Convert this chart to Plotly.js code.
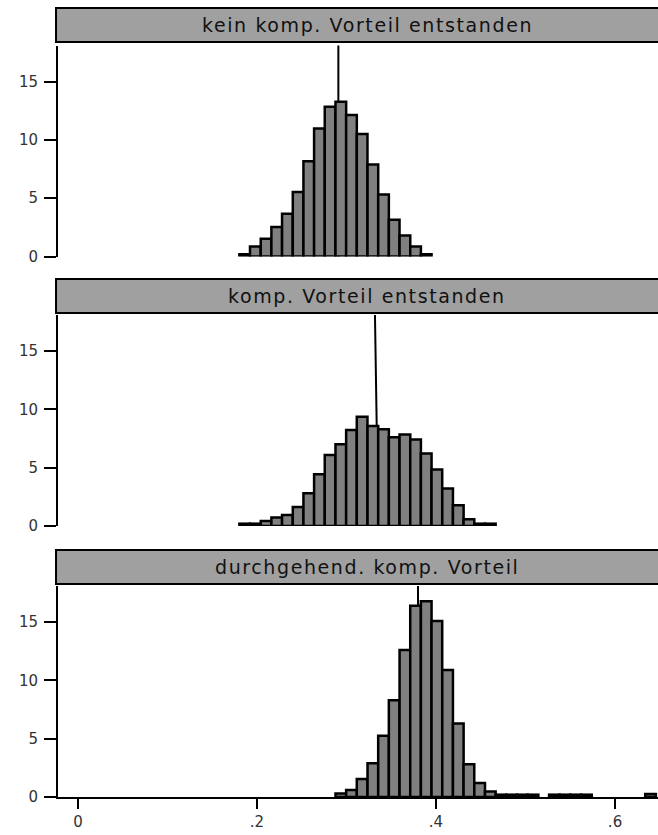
<!DOCTYPE html>
<html>
<head>
<meta charset="utf-8">
<script src="https://cdn.plot.ly/plotly-3.0.1.min.js"></script>
<style>
html,body{margin:0;padding:0;overflow:hidden;background:#fff}
.annotation-text{letter-spacing:1.6px}
</style>
</head>
<body>
<div id="chart" style="width:658px;height:835px"></div>
<script>
// ---- data ----
const panelTitles = ["kein komp. Vorteil entstanden", "komp. Vorteil entstanden", "durchgehend. komp. Vorteil"];
const binLeft = [0.1803, 0.1922, 0.2042, 0.2161, 0.2280, 0.2400, 0.2519, 0.2638, 0.2757, 0.2877,
                 0.2996, 0.3115, 0.3235, 0.3354, 0.3473, 0.3593, 0.3712, 0.3831, 0.3950, 0.4070,
                 0.4189, 0.4308, 0.4428, 0.4547, 0.4666, 0.4786, 0.4905, 0.5024, 0.5143, 0.5263,
                 0.5382, 0.5501, 0.5621, 0.5740, 0.5859, 0.5979, 0.6098, 0.6217, 0.6337];
const binWidth = 0.01193;
// density per bin (null = empty bin)
const densKein = [0.2, 0.86, 1.52, 2.52, 3.67, 5.53, 8.18, 10.99, 12.85, 13.28,
                  12.13, 10.5, 7.89, 5.31, 3.16, 1.81, 0.86, 0.2, null, null,
                  null, null, null, null, null, null, null, null, null, null,
                  null, null, null, null, null, null, null, null, null];
const densEntstanden = [0.2, 0.2, 0.43, 0.72, 0.95, 1.64, 2.81, 4.44, 6.08, 7.02,
                        8.23, 9.37, 8.57, 8.31, 7.62, 7.85, 7.42, 6.22, 4.84, 3.21,
                        1.78, 0.57, 0.2, 0.2, null, null, null, null, null, null,
                        null, null, null, null, null, null, null, null, null];
const densDurch = [null, null, null, null, null, null, null, null, null, 0.3,
                   0.6, 1.55, 2.9, 5.25, 8.3, 12.6, 16.4, 16.8, 15.1, 10.9,
                   6.3, 2.8, 1.2, 0.48, 0.2, 0.2, 0.2, 0.2, null, 0.2,
                   0.2, 0.2, 0.2, null, null, null, null, null, 0.25];
// reference (mean) line: [x at bottom, x at top]
const meanKein = [0.2909, 0.2909];
const meanEntstanden = [0.3355, 0.3318];
const meanDurch = [0.3799, 0.3799];
const yTickVals = [0, 5, 10, 15];
const yTickText = ["0", "5", "10", "15"];
const xTickVals = [0, 0.2, 0.4, 0.6];
const xTickText = ["0", ".2", ".4", ".6"];

// ---- chart ----
const FONT = "DejaVu Sans, sans-serif";
const series = [densKein, densEntstanden, densDurch];
const means = [meanKein, meanEntstanden, meanDurch];
const suffix = ["", "2", "3"];

const traces = series.map((d, i) => ({
  type: "bar",
  x: binLeft,
  y: d,
  width: binWidth,
  offset: 0,
  xaxis: "x" + suffix[i],
  yaxis: "y" + suffix[i],
  marker: {color: "#808080", line: {color: "#000", width: 2.5}},
  hoverinfo: "skip"
}));

const H = 797; // plot-area height in px (t=0, b=38)
const f = px => 1 - px / H;
const yDomains = [[f(256.5), f(45.5)], [f(526), f(315)], [f(797), f(586)]];
const strips = [[8, 42], [279, 313], [550, 584]];
const xRange = [-0.0223, 0.648];
const yRange = [0, 18.1];

const layout = {
  width: 658, height: 835,
  margin: {l: 58, r: 0, t: 0, b: 38},
  paper_bgcolor: "#fff", plot_bgcolor: "#fff",
  showlegend: false,
  bargap: 0,
  font: {family: FONT, color: "#333"},
  shapes: [], annotations: []
};

for (let i = 0; i < 3; i++) {
  const s = suffix[i];
  layout["yaxis" + s] = {
    domain: yDomains[i], range: yRange, anchor: "x" + s,
    tickvals: yTickVals, ticktext: yTickText,
    ticks: "outside", ticklen: 12, tickwidth: 2, tickcolor: "#000",
    showline: true, linewidth: 2, linecolor: "#000",
    showgrid: false, zeroline: false,
    tickfont: {family: FONT, size: 15, color: "#333"},
    ticklabelstandoff: 3,
    fixedrange: true
  };
  const bottom = i === 2;
  layout["xaxis" + s] = {
    domain: [0, 1], range: xRange, anchor: "y" + s,
    visible: bottom,
    tickvals: xTickVals, ticktext: xTickText,
    ticks: "outside", ticklen: 10, tickwidth: 2, tickcolor: "#000",
    showline: true, linewidth: 2, linecolor: "#000",
    showgrid: false, zeroline: false,
    tickfont: {family: FONT, size: 15, color: "#333"},
    fixedrange: true
  };
  layout.shapes.push({
    type: "line", xref: "x" + s, yref: "y" + s + " domain",
    x0: means[i][0], y0: 0, x1: means[i][1], y1: 1,
    layer: "below", line: {color: "#000", width: 2}
  });
  layout.shapes.push({
    type: "rect", xref: "paper", yref: "paper",
    x0: -0.0033, x1: 1.1, y0: f(strips[i][1]), y1: f(strips[i][0]),
    fillcolor: "#a0a0a0", line: {color: "#000", width: 2}, layer: "above"
  });
  layout.annotations.push({
    text: panelTitles[i], xref: "paper", yref: "paper",
    x: 0.515, y: f((strips[i][0] + strips[i][1]) / 2),
    xanchor: "center", yanchor: "middle", showarrow: false,
    font: {family: FONT, size: 19, color: "#111"}
  });
}

Plotly.newPlot("chart", traces, layout, {displayModeBar: false, staticPlot: true});
</script>
</body>
</html>
